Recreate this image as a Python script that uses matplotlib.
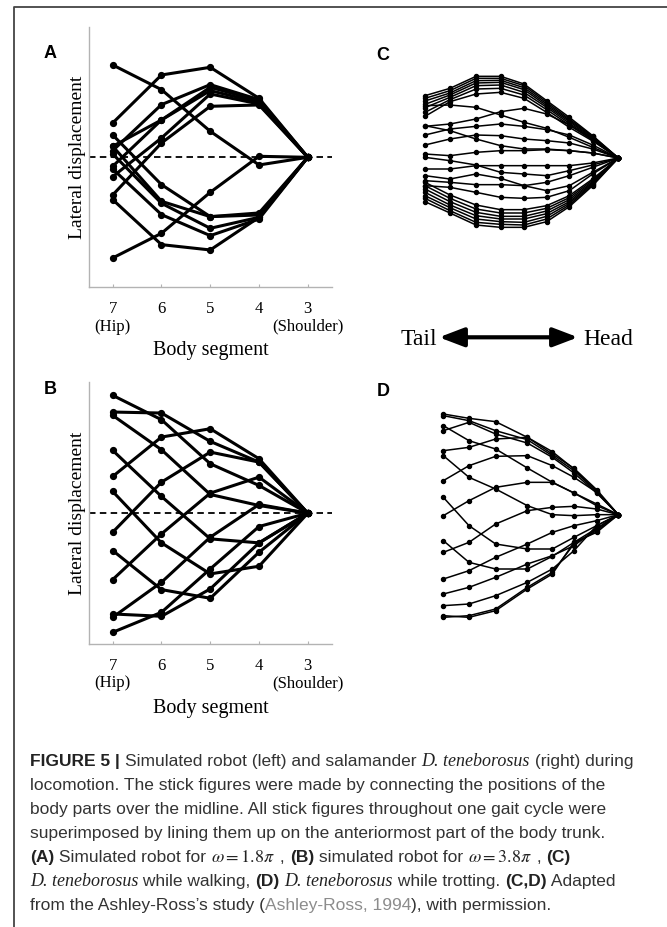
import matplotlib
matplotlib.use('Agg')
import matplotlib.pyplot as plt
from matplotlib.lines import Line2D
from matplotlib.patches import FancyArrowPatch

plt.rcParams['mathtext.fontset'] = 'stix'

# ---------------- data ----------------
segments = [7, 6, 5, 4, 3]
segment_labels = ['7\n(Hip)', '6', '5', '4', '3\n(Shoulder)']

# Panel A: simulated robot, omega = 1.8 pi (lateral displacement, arbitrary units)
A_lines = [
    [103, 247, 270, 177, 0],
    [20, 158, 218, 173, 0],
    [33, 112, 210, 170, 0],
    [-27, 112, 200, 165, 0],
    [-58, 58, 190, 160, 0],
    [-113, 43, 153, 157, 0],
    [67, -82, -178, -167, 0],
    [33, -132, -178, -173, 0],
    [10, -138, -213, -180, 0],
    [-35, -172, -235, -185, 0],
    [-127, -262, -278, -180, 0],
    [277, 203, 78, -23, 0],
    [-302, -228, -105, 3, 0],
]

# Panel B: simulated robot, omega = 3.8 pi
B_lines = [
    [110, 228, 253, 163, 0],
    [-57, 93, 183, 153, 0],
    [-199, -62, 60, 108, 0],
    [-312, -207, -72, 26, 0],
    [-357, -297, -167, -40, 0],
    [-302, -309, -227, -89, 0],
    [353, 280, 148, 83, 0],
    [303, 300, 215, 153, 0],
    [293, 190, 56, 23, 0],
    [188, 50, -77, -89, 0],
    [65, -89, -182, -159, 0],
    [-112, -229, -255, -117, 0],
]

# Panel C: D. teneborosus walking (traced positions, tail -> head, y downward)
C_stations = [165, 240, 318, 392, 462, 530, 598, 668, 745]
C_lines = [
    [170, 148, 112, 112, 135, 185, 235, 290, 357],
    [178, 155, 118, 118, 140, 190, 240, 292, 357],
    [186, 162, 125, 124, 146, 195, 244, 295, 357],
    [196, 168, 132, 130, 152, 200, 248, 298, 357],
    [206, 175, 140, 138, 160, 205, 253, 300, 357],
    [220, 182, 150, 148, 168, 212, 258, 303, 357],
    [232, 188, 165, 160, 178, 220, 265, 306, 357],
    [200, 198, 205, 228, 250, 268, 295, 325, 357],
    [262, 255, 240, 218, 208, 225, 258, 302, 357],
    [288, 270, 262, 255, 262, 272, 288, 318, 357],
    [318, 300, 288, 290, 300, 305, 312, 330, 357],
    [260, 275, 300, 320, 330, 330, 335, 342, 357],
    [345, 350, 340, 335, 335, 332, 335, 342, 357],
    [390, 390, 380, 380, 380, 380, 380, 372, 357],
    [355, 365, 378, 400, 405, 410, 395, 378, 357],
    [425, 430, 437, 437, 440, 430, 410, 385, 357],
    [410, 420, 405, 418, 440, 455, 440, 400, 357],
    [440, 445, 460, 475, 478, 475, 455, 405, 357],
    [430, 468, 498, 512, 512, 500, 470, 420, 357],
    [440, 478, 510, 522, 522, 508, 476, 424, 357],
    [450, 488, 520, 532, 532, 516, 482, 428, 357],
    [460, 498, 530, 540, 540, 524, 488, 431, 357],
    [470, 506, 540, 548, 550, 532, 493, 434, 357],
    [478, 515, 550, 556, 558, 540, 498, 437, 357],
    [488, 522, 558, 565, 565, 548, 503, 440, 357],
]

# Panel D: D. teneborosus trotting
D_stations = [220, 297, 377, 472, 547, 612, 680, 745]
D_lines = [
    [135, 148, 158, 205, 255, 298, 362, 437],
    [140, 155, 185, 212, 260, 305, 368, 437],
    [170, 215, 240, 297, 340, 372, 405, 437],
    [185, 160, 195, 222, 265, 312, 372, 437],
    [245, 235, 210, 205, 248, 300, 366, 437],
    [260, 325, 360, 410, 437, 440, 437, 437],
    [335, 290, 262, 260, 290, 325, 370, 437],
    [385, 470, 525, 540, 540, 505, 470, 437],
    [440, 395, 355, 340, 340, 372, 410, 437],
    [515, 580, 600, 600, 562, 520, 478, 437],
    [550, 520, 465, 425, 415, 412, 420, 437],
    [630, 605, 565, 525, 490, 470, 455, 437],
    [675, 655, 625, 585, 560, 530, 480, 437],
    [710, 705, 680, 640, 600, 545, 470, 437],
    [740, 745, 725, 660, 615, 520, 490, 437],
    [745, 740, 720, 655, 610, 525, 485, 437],
]

# ---------------- figure ----------------
W, H = 667, 928
fig = plt.figure(figsize=(W / 100, H / 100), dpi=100)


def fx(px):
    return px / W


def fy(py):
    return 1 - py / H


SERIF = ['Liberation Serif', 'DejaVu Serif']
SANS = ['Liberation Sans', 'DejaVu Sans']
SPINE = '#b3b3b3'


def robot_panel(top, bottom, lines, ylim):
    left, right = 89.3, 331.7
    ax = fig.add_axes([fx(left), fy(bottom), (right - left) / W, (bottom - top) / H])
    for ys in lines:
        ax.plot(segments, ys, color='black', lw=2.2, marker='o', ms=4.2,
                solid_joinstyle='round', solid_capstyle='round', clip_on=False, zorder=3)
    ax.axhline(0, color='black', lw=1.3, ls=(0, (3.6, 2.4)), zorder=2)
    ax.set_xlim(7.48, 2.51)
    ax.set_ylim(*ylim)
    for s in ['top', 'right']:
        ax.spines[s].set_visible(False)
    for s in ['left', 'bottom']:
        ax.spines[s].set_color(SPINE)
        ax.spines[s].set_linewidth(1.0)
    ax.set_yticks([])
    ax.set_xticks(segments)
    ax.set_xticklabels(segment_labels, fontfamily=SERIF, fontsize=12, linespacing=1.15)
    ax.tick_params(axis='x', direction='in', length=2.5, color=SPINE, pad=9)
    return ax


axA = robot_panel(28.3, 288.3, A_lines, (-390, 390))
axB = robot_panel(383.0, 645.0, B_lines, (-392, 393))

for yc in [157, 513]:
    fig.text(fx(78), fy(yc), 'Lateral displacement', rotation=90, ha='center', va='center',
             fontfamily=SERIF, fontsize=14)
for yc in [351, 708]:
    fig.text(fx(210.5), fy(yc), 'Body segment', ha='center', va='center',
             fontfamily=SERIF, fontsize=14.5)


def salamander_panel(top, bottom, stations, lines, yspan):
    ax = fig.add_axes([fx(370), fy(bottom), 290 / W, (bottom - top) / H])
    for ys in lines:
        ax.plot(stations, ys, color='black', lw=1.1, marker='o', ms=2.9, clip_on=False)
    ax.set_xlim(0, 870)
    ax.set_ylim(yspan, 0)
    ax.axis('off')
    return ax


salamander_panel(40, 280, C_stations, C_lines, 720)
salamander_panel(370, 650, D_stations, D_lines, 840)

# panel letters
for letter, (x, y) in zip('ABCD', [(50, 53), (50, 390), (383, 55), (383, 392)]):
    fig.text(fx(x), fy(y), letter, ha='center', va='center', fontfamily=SANS,
             fontweight='bold', fontsize=13)

# Tail <-> Head
fig.text(fx(437), fy(345), 'Tail', ha='right', va='baseline', fontfamily=SERIF, fontsize=17)
fig.text(fx(583), fy(345), 'Head', ha='left', va='baseline', fontfamily=SERIF, fontsize=17)
arrow = FancyArrowPatch((fx(439), fy(338.3)), (fx(578), fy(338.3)), transform=fig.transFigure,
                        arrowstyle='<|-|>,head_length=0.42,head_width=0.16', mutation_scale=36,
                        color='black', lw=3.0, shrinkA=0, shrinkB=0)
fig.add_artist(arrow)

# border
fig.add_artist(Line2D([fx(14), fx(14), fx(667)], [fy(928), fy(8.3), fy(8.3)],
                      transform=fig.transFigure, color='#444444', lw=1.3))

# caption
renderer = fig.canvas.get_renderer()
CS = 12.5
reg = dict(fontfamily=SANS, fontsize=CS, color='#333333')
bold = dict(fontfamily=SANS, fontsize=CS, fontweight='bold', color='#222222')
ital = dict(fontfamily=SERIF, fontsize=CS + 0.5, style='italic', color='#222222')
math = dict(fontsize=CS + 0.5, color='#222222')
link = dict(fontfamily=SANS, fontsize=CS, color='#8c8c8c')

caption_lines = [
    [('FIGURE 5', bold), (' | ', bold), ('Simulated robot (left) and salamander ', reg),
     ('D. teneborosus', ital), (' (right) during', reg)],
    [('locomotion. The stick figures were made by connecting the positions of the', reg)],
    [('body parts over the midline. All stick figures throughout one gait cycle were', reg)],
    [('superimposed by lining them up on the anteriormost part of the body trunk.', reg)],
    [('(A)', bold), (' Simulated robot for ', reg), (r'$\omega = 1.8\pi$', math), (' , ', reg),
     ('(B)', bold), (' simulated robot for ', reg), (r'$\omega = 3.8\pi$', math), (' , ', reg),
     ('(C)', bold)],
    [('D. teneborosus', ital), (' while walking, ', reg), ('(D)', bold), (' ', reg),
     ('D. teneborosus', ital), (' while trotting. ', reg), ('(C,D)', bold), (' Adapted', reg)],
    [('from the Ashley-Ross\u2019s study (', reg), ('Ashley-Ross, 1994', link),
     ('), with permission.', reg)],
]

y0, dy = 766, 24.0
for i, runs in enumerate(caption_lines):
    x = 30.0
    for text, style in runs:
        t = fig.text(fx(x), fy(y0 + i * dy), text, ha='left', va='baseline', **style)
        x += t.get_window_extent(renderer).width

fig.savefig('out.png', dpi=100)
